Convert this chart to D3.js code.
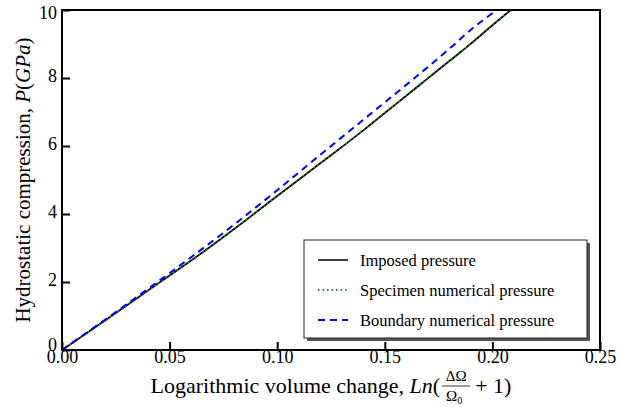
<!DOCTYPE html>
<html>
<head>
<meta charset="utf-8">
<script src="https://cdn.jsdelivr.net/npm/d3@7"></script>
<style>
  body { margin: 0; background: #fff; }
</style>
</head>
<body>
<div id="chart"></div>
<script>
// strain values (log volume change) and pressures in GPa
const imposedX  = [0, 0.02, 0.04, 0.06, 0.08, 0.10, 0.11, 0.12, 0.13, 0.14, 0.15, 0.16, 0.17, 0.18, 0.185, 0.19, 0.20, 0.2085];
const imposedP  = [0, 0.87, 1.75, 2.63, 3.56, 4.53, 5.01, 5.49, 5.97, 6.46, 6.97, 7.48, 7.99, 8.50, 8.75, 9.01, 9.55, 10.0];
const specimenX = [0, 0.02, 0.04, 0.06, 0.08, 0.10, 0.11, 0.12, 0.13, 0.14, 0.15, 0.16, 0.17, 0.18, 0.185, 0.19, 0.20, 0.2085];
const specimenP = [0, 0.87, 1.76, 2.64, 3.57, 4.54, 5.02, 5.50, 5.98, 6.47, 6.98, 7.49, 8.00, 8.51, 8.76, 9.02, 9.56, 10.0];
const boundaryX = [0, 0.02, 0.04, 0.06, 0.08, 0.10, 0.12, 0.14, 0.16, 0.18, 0.19, 0.202];
const boundaryP = [0, 0.89, 1.80, 2.73, 3.69, 4.70, 5.74, 6.77, 7.80, 8.86, 9.42, 10.0];

const xTicks = [0, 0.05, 0.10, 0.15, 0.20, 0.25];
const yTicks = [0, 2, 4, 6, 8, 10];

const seriesNames = ["Imposed pressure", "Specimen numerical pressure", "Boundary numerical pressure"];

const serif = "'Liberation Serif', 'Times New Roman', Times, 'DejaVu Serif', serif";
const width = 619, height = 407;
const margin = {left: 62, right: 19, top: 10, bottom: 57};

const svg = d3.select("#chart")
  .append("svg")
    .attr("width", width)
    .attr("height", height)
    .attr("font-family", serif);

const x = d3.scaleLinear().domain([0, 0.25]).range([margin.left, width - margin.right]);
const y = d3.scaleLinear().domain([0, 10]).range([height - margin.bottom, margin.top]);

const series = [
  {name: seriesNames[0], xs: imposedX, ys: imposedP, color: "#000000", dash: null, w: 1.8},
  {name: seriesNames[1], xs: specimenX, ys: specimenP, color: "#1a9a1a", dash: "1.5,3", w: 1.6},
  {name: seriesNames[2], xs: boundaryX, ys: boundaryP, color: "#0000ff", dash: "7,5", w: 2}
];

const line = d3.line()
  .curve(d3.curveMonotoneX)
  .x(function(d) { return x(d[0]); })
  .y(function(d) { return y(d[1]); });

svg.append("clipPath").attr("id", "plot-clip")
  .append("rect")
    .attr("x", margin.left)
    .attr("y", margin.top)
    .attr("width", width - margin.left - margin.right)
    .attr("height", height - margin.top - margin.bottom);

const plot = svg.append("g").attr("clip-path", "url(#plot-clip)");

series.forEach(function(s) {
  plot.append("path")
    .datum(d3.zip(s.xs, s.ys))
    .attr("fill", "none")
    .attr("stroke", s.color)
    .attr("stroke-width", s.w)
    .attr("stroke-dasharray", s.dash)
    .attr("d", line);
});

// axes, ticks pointing inward
svg.append("g")
  .attr("transform", "translate(0," + (height - margin.bottom) + ")")
  .call(d3.axisBottom(x).tickValues(xTicks).tickSize(-8).tickPadding(2).tickFormat(d3.format(".2f")))
  .call(function(g) {
    g.attr("font-family", serif);
    g.select(".domain").remove();
    g.selectAll(".tick line").attr("stroke-width", 2);
    g.selectAll(".tick text").attr("font-size", 18).attr("fill", "#000").attr("dy", "0.6em");
  });

svg.append("g")
  .attr("transform", "translate(" + margin.left + ",0)")
  .call(d3.axisLeft(y).tickValues(yTicks).tickSize(-8).tickPadding(5))
  .call(function(g) {
    g.attr("font-family", serif);
    g.select(".domain").remove();
    g.selectAll(".tick line").attr("stroke-width", 2);
    g.selectAll(".tick text").attr("font-size", 18).attr("fill", "#000")
      .attr("dy", function(d) { return d === 10 ? "0.45em" : (d === 0 ? "0.05em" : "0.2em"); });
  });

svg.append("rect")
  .attr("x", margin.left)
  .attr("y", margin.top)
  .attr("width", width - margin.left - margin.right)
  .attr("height", height - margin.top - margin.bottom)
  .attr("fill", "none")
  .attr("stroke", "#000")
  .attr("stroke-width", 2);

// legend with shadow
const lg = svg.append("g").attr("transform", "translate(304,240)");
lg.append("rect").attr("x", 3).attr("y", 3).attr("width", 283).attr("height", 98).attr("fill", "#555");
lg.append("rect").attr("x", 0).attr("y", 0).attr("width", 283).attr("height", 98)
  .attr("fill", "#fff").attr("stroke", "#222").attr("stroke-width", 1);

series.forEach(function(s, i) {
  const yy = 20 + i * 30;
  lg.append("line")
    .attr("x1", 14).attr("x2", 44).attr("y1", yy).attr("y2", yy)
    .attr("stroke", s.color).attr("stroke-width", i === 0 ? 1.5 : 1.8)
    .attr("stroke-dasharray", i === 1 ? "1.5,3" : (i === 2 ? "7,5" : null));
  lg.append("text")
    .attr("x", 56).attr("y", yy + 6)
    .attr("font-size", 16.5)
    .text(s.name);
});

// y axis title
const yt = svg.append("text")
  .attr("transform", "translate(30," + ((margin.top + height - margin.bottom) / 2) + ") rotate(-90)")
  .attr("text-anchor", "middle")
  .attr("font-size", 21);
yt.append("tspan").text("Hydrostatic compression, ");
yt.append("tspan").attr("font-style", "italic").text("P");
yt.append("tspan").text("(");
yt.append("tspan").attr("font-style", "italic").text("GPa");
yt.append("tspan").text(")");

// x axis title with fraction, centred under the plot
const xt = svg.append("g");
const xtext = xt.append("text")
  .attr("y", 393)
  .attr("font-size", 22);
xtext.append("tspan").text("Logarithmic volume change, ");
xtext.append("tspan").attr("font-style", "italic").text("Ln");
xtext.append("tspan").text("(");
const closing = xt.append("text").attr("y", 393).attr("font-size", 22).text("+ 1)");
const leftW = xtext.node().getComputedTextLength();
const rightW = closing.node().getComputedTextLength();
const fracW = 28;
const totalW = leftW + 2 + fracW + 5 + rightW;
const x0 = (margin.left + width - margin.right) / 2 - totalW / 2;
xtext.attr("x", x0);
const fracX = x0 + leftW + 2;
closing.attr("x", fracX + fracW + 5);
xt.append("text").attr("x", fracX + fracW / 2).attr("y", 381).attr("font-size", 15).attr("text-anchor", "middle").text("ΔΩ");
xt.append("line").attr("x1", fracX).attr("x2", fracX + fracW).attr("y1", 386).attr("y2", 386).attr("stroke", "#000").attr("stroke-width", 0.8);
const den = xt.append("text").attr("x", fracX + fracW / 2 - 2).attr("y", 401).attr("font-size", 15).attr("text-anchor", "middle");
den.append("tspan").text("Ω");
den.append("tspan").attr("font-size", 10).attr("dy", 3).text("0");
</script>
</body>
</html>
